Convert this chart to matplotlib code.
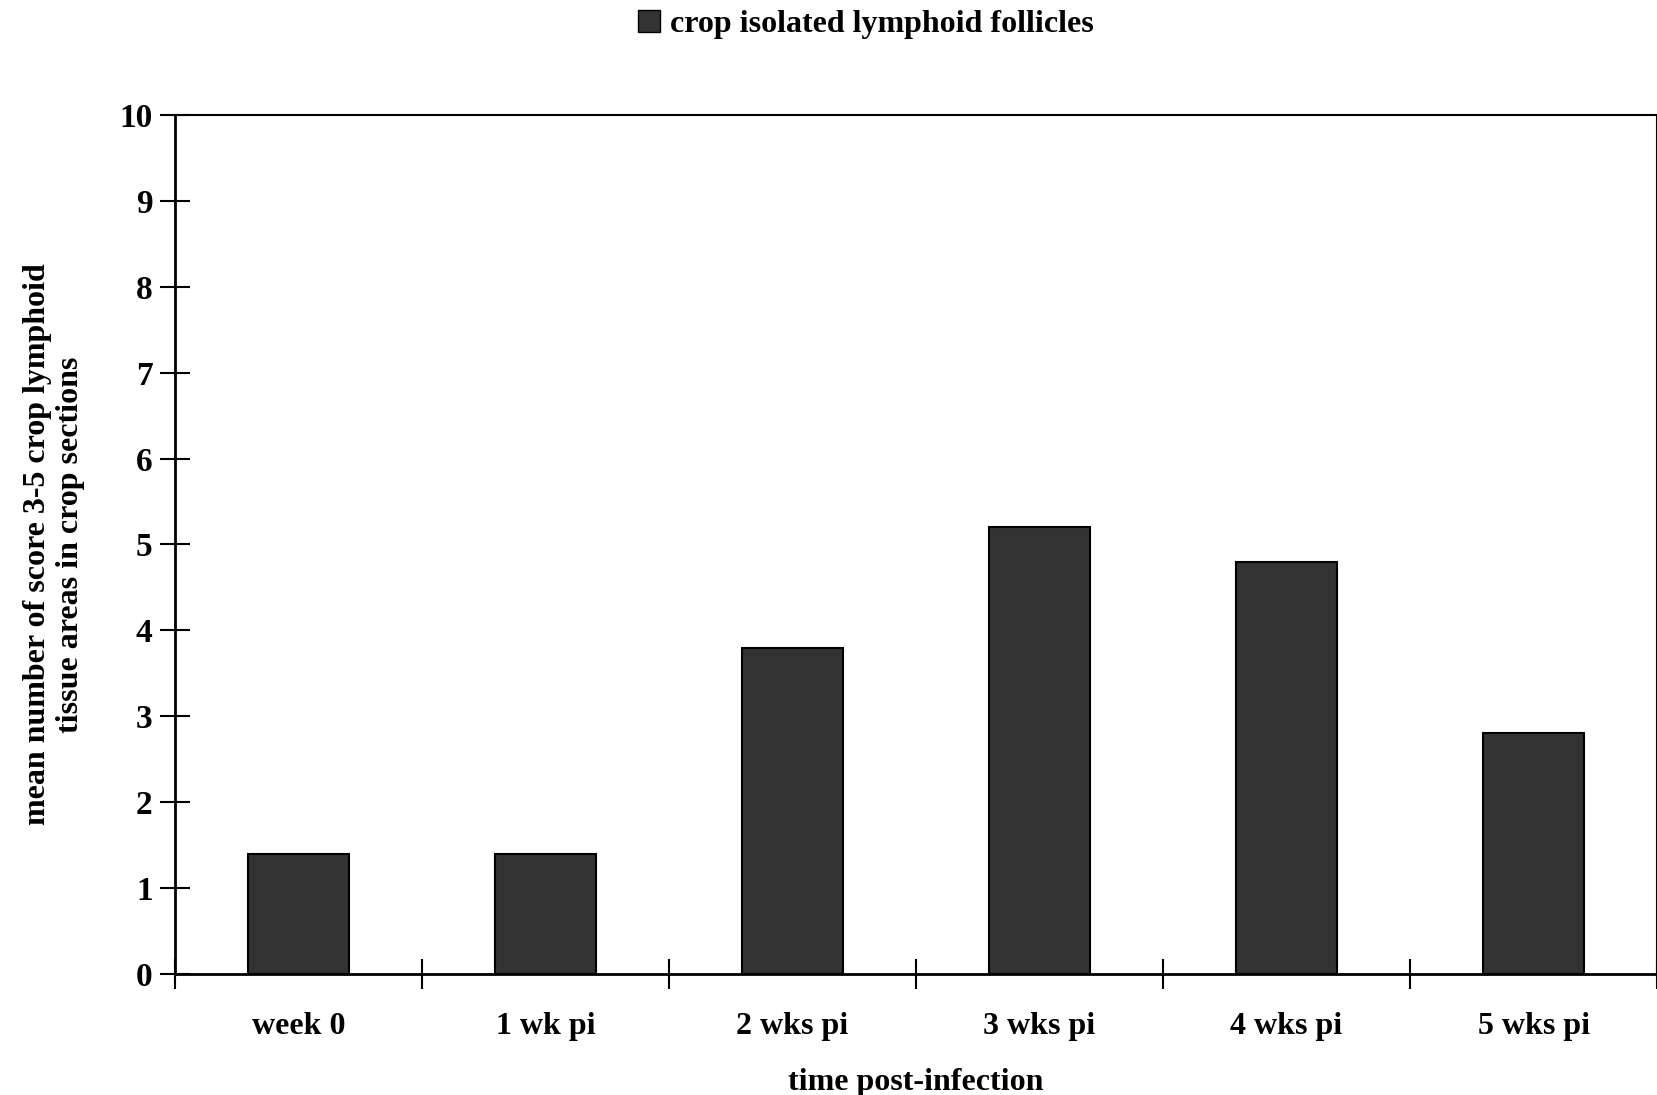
import matplotlib
matplotlib.use('Agg')
import matplotlib.pyplot as plt
import numpy as np
from matplotlib.patches import Patch

categories = ["week 0", "1 wk pi", "2 wks pi", "3 wks pi", "4 wks pi", "5 wks pi"]
values = [1.4, 1.4, 3.8, 5.2, 4.8, 2.8]
series_name = "crop isolated lymphoid follicles"

plt.rcParams['font.family'] = ['Liberation Serif', 'DejaVu Serif']
plt.rcParams['font.weight'] = 'bold'
fs = 23

fig = plt.figure(figsize=(16.58, 10.95), dpi=100)
ax = fig.add_axes([0.1055, 0.1105, 0.894, 0.7845])

x = np.arange(len(categories))
ax.bar(x, values, width=0.41, color='#333333', edgecolor='black', linewidth=1.5)

ax.set_xlim(-0.5, len(categories) - 0.5)
ax.set_ylim(0, 10)
ax.set_yticks(range(0, 11))
ax.set_xticks(np.arange(-0.5, len(categories) + 0.5, 1))
ax.set_xticklabels([])
ax.set_xticks(x, minor=True)
ax.set_xticklabels(categories, minor=True, fontsize=fs, fontweight='bold')
ax.tick_params(axis='x', which='minor', length=0, pad=27)
ax.tick_params(axis='x', which='major', direction='inout', length=22, width=1.5)
ax.tick_params(axis='y', direction='inout', length=22, width=1.5, labelsize=24, pad=5)
for lab in ax.get_yticklabels():
    lab.set_fontweight('bold')

for s in ax.spines.values():
    s.set_linewidth(1.5)
ax.spines['left'].set_linewidth(2)
ax.spines['bottom'].set_linewidth(2)

ax.set_xlabel("time post-infection", fontsize=fs, fontweight='bold', labelpad=20)
ax.set_ylabel("mean number of score 3-5 crop lymphoid\ntissue areas in crop sections",
              fontsize=fs, fontweight='bold', labelpad=25, linespacing=1.15)

fig.legend(handles=[Patch(facecolor='#333333', edgecolor='black', label=series_name)],
           loc='upper center', bbox_to_anchor=(0.522, 1.017), frameon=False,
           handlelength=0.7, handleheight=0.7, handletextpad=0.3,
           prop={'weight': 'bold', 'size': fs})

fig.savefig("out.png", dpi=100)
